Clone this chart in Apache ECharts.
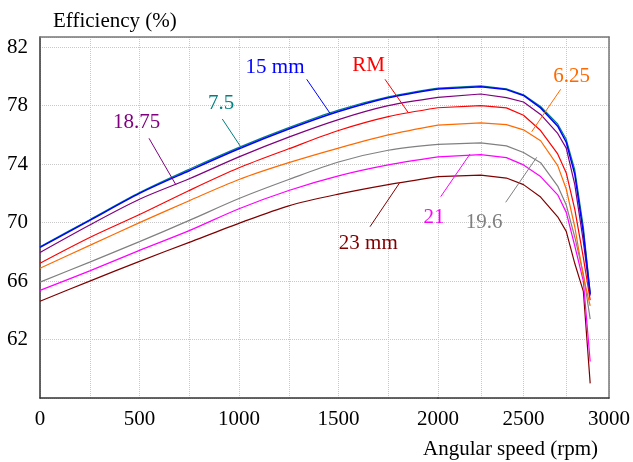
<!DOCTYPE html>
<html>
<head>
<meta charset="utf-8">
<script src="https://cdn.jsdelivr.net/npm/echarts@6/dist/echarts.min.js"></script>
<style>
html, body { margin: 0; padding: 0; background: #fff; }
#main { width: 633px; height: 462px; }
</style>
</head>
<body>
<div id="main"></div>
<script>
// 转速 (rpm)
var rpm = [0, 250, 500, 750, 1000, 1250, 1500, 1750, 2000, 2250, 2400, 2500, 2600, 2700, 2750, 2800, 2850, 2890];

// 效率 (%)
var eff75 = [68.35, 70.2, 72.05, 73.65, 75.15, 76.5, 77.7, 78.6, 79.2, 79.35, 79.15, 78.75, 77.95, 76.75, 75.7, 73.6, 69.7, 65.2];
var eff15 = [68.3, 70.15, 72.0, 73.55, 75.05, 76.4, 77.6, 78.55, 79.15, 79.3, 79.1, 78.7, 77.85, 76.6, 75.5, 73.3, 69.3, 65.1];
var eff1875 = [67.96, 69.84, 71.6, 73.0, 74.5, 75.85, 77.05, 78.0, 78.57, 78.8, 78.55, 78.25, 77.4, 76.1, 75.1, 72.6, 68.7, 65.0];
var effRM = [67.22, 68.98, 70.55, 72.2, 73.75, 75.05, 76.3, 77.25, 77.86, 78.0, 77.85, 77.35, 76.3, 74.7, 73.4, 70.9, 67.6, 64.7];
var eff625 = [66.88, 68.44, 70.0, 71.5, 72.95, 74.1, 75.1, 76.0, 76.67, 76.83, 76.7, 76.35, 75.6, 73.9, 72.3, 69.7, 66.3, 64.3];
var eff196 = [65.93, 67.3, 68.7, 70.15, 71.65, 72.95, 74.15, 74.95, 75.35, 75.45, 75.25, 74.8, 74.1, 72.5, 71.2, 69.0, 66.5, 63.4];
var eff21 = [65.36, 66.7, 68.1, 69.45, 70.95, 72.2, 73.2, 73.95, 74.5, 74.65, 74.45, 73.95, 73.15, 71.9, 70.7, 68.4, 66.0, 60.5];
var eff23 = [64.62, 66.0, 67.35, 68.65, 69.95, 71.15, 71.95, 72.6, 73.15, 73.25, 73.05, 72.6, 71.75, 70.4, 69.4, 67.2, 65.3, 59.0];

var yTicks = [62, 66, 70, 74, 78, 82];
var xTicks = [0, 500, 1000, 1500, 2000, 2500, 3000];

var curves = [
    { name: '23 mm', data: eff23, color: '#800000' },
    { name: '21', data: eff21, color: '#ff00ff' },
    { name: '19.6', data: eff196, color: '#808080' },
    { name: '6.25', data: eff625, color: '#ff6a00' },
    { name: 'RM', data: effRM, color: '#ff0000' },
    { name: '18.75', data: eff1875, color: '#800080' },
    { name: '7.5', data: eff75, color: '#008080' },
    { name: '15 mm', data: eff15, color: '#0000ff' }
];

var font = 'Liberation Serif';
var grid = { left: 40, top: 37, bottom: 64 };
var split = 2000; // 原图2000rpm以后横轴被压缩, 分成两个grid

// 取某段转速范围内的点
function part(vals, lo, hi) {
    var out = [];
    for (var i = 0; i < rpm.length; i++) {
        if (rpm[i] >= lo && rpm[i] <= hi) out.push([rpm[i], vals[i]]);
    }
    return out;
}

function xLabel(hideVal) {
    return function (v) {
        if (v === hideVal) return '';
        return xTicks.indexOf(v) >= 0 ? v : '';
    };
}

function yLabel(v) {
    return yTicks.indexOf(v) >= 0 ? v : '';
}

var splitStyle = { show: true, lineStyle: { color: '#c8c8c8', type: 'dotted', width: 1 } };
var darkLine = { show: true, lineStyle: { color: '#333', width: 1.5 } };
var greyLine = { show: true, lineStyle: { color: '#777', width: 1.5 } };

var series = [];
curves.forEach(function (c) {
    // [起, 止, 轴序号, 平滑]
    [[0, split, 0, 0.3], [split, 3000, 1, false]].forEach(function (p) {
        series.push({
            name: c.name,
            type: 'line',
            xAxisIndex: p[2],
            yAxisIndex: p[2],
            data: part(c.data, p[0], p[1]),
            showSymbol: false,
            smooth: p[3],
            lineStyle: { color: c.color, width: c.name == '15 mm' ? 1.5 : 1.2 },
            itemStyle: { color: c.color },
            z: 3
        });
    });
});

// 曲线标注: [文字, 颜色, 文字x, 文字y, 线x1, 线y1, 线x2, 线y2]
var notes = [
    ['15 mm', '#0000ff', 275, 67, 306.7, 79.3, 330, 113.3],
    ['RM', '#ff0000', 368.5, 65, 385, 79.3, 408.3, 112.7],
    ['7.5', '#008080', 221, 103, 222.3, 119, 241.7, 148.3],
    ['18.75', '#800080', 136.5, 122.5, 149, 138.3, 176, 185],
    ['6.25', '#ff6a00', 571.5, 76, 560.7, 89.3, 531.7, 131.7],
    ['19.6', '#808080', 484, 222, 505.7, 202.3, 536.7, 157.3],
    ['21', '#ff00ff', 434, 217.5, 440.7, 196.7, 470, 154],
    ['23 mm', '#800000', 368.3, 243, 370, 226.7, 399.3, 183.3]
];
var graphics = [];
notes.forEach(function (n) {
    graphics.push({
        type: 'text', x: n[2], y: n[3], z: 10,
        style: { text: n[0], fill: n[1], font: '21px "' + font + '"', textAlign: 'center', textVerticalAlign: 'middle' }
    });
    graphics.push({
        type: 'line', z: 10,
        shape: { x1: n[4], y1: n[5], x2: n[6], y2: n[7] },
        style: { stroke: n[1], lineWidth: 1 }
    });
});

var myChart = echarts.init(document.getElementById('main'));
var option = {
    animation: false,
    backgroundColor: '#fff',
    title: [{
        text: 'Efficiency (%)', left: 48, top: 6,
        textStyle: { fontFamily: font, fontSize: 21, fontWeight: 'normal', color: '#000' }
    }, {
        text: 'Angular speed (rpm)', right: 30, top: 434,
        textStyle: { fontFamily: font, fontSize: 21, fontWeight: 'normal', color: '#000' }
    }],
    grid: [
        { left: grid.left, top: grid.top, bottom: grid.bottom, width: 398 },
        { left: 438, top: grid.top, bottom: grid.bottom, width: 174 }
    ],
    xAxis: [{
        type: 'value', gridIndex: 0, min: 0, max: split, interval: 250,
        axisLine: darkLine, axisTick: { show: false }, splitLine: splitStyle,
        axisLabel: { formatter: xLabel(null), fontFamily: font, fontSize: 21, color: '#000', margin: 11 }
    }, {
        type: 'value', gridIndex: 1, min: split, max: 3000, interval: 250,
        axisLine: darkLine, axisTick: { show: false }, splitLine: splitStyle,
        axisLabel: { formatter: xLabel(split), fontFamily: font, fontSize: 21, color: '#000', margin: 11 }
    }, {
        type: 'value', gridIndex: 0, position: 'top', min: 0, max: split,
        axisLine: greyLine, axisTick: { show: false }, splitLine: { show: false }, axisLabel: { show: false }
    }, {
        type: 'value', gridIndex: 1, position: 'top', min: split, max: 3000,
        axisLine: greyLine, axisTick: { show: false }, splitLine: { show: false }, axisLabel: { show: false }
    }],
    yAxis: [{
        type: 'value', gridIndex: 0, min: 58, max: 82.7, interval: 4,
        axisLine: darkLine, axisTick: { show: false }, splitLine: splitStyle,
        axisLabel: { formatter: yLabel, fontFamily: font, fontSize: 21, color: '#000', margin: 12 }
    }, {
        type: 'value', gridIndex: 1, position: 'right', min: 58, max: 82.7, interval: 4,
        axisLine: greyLine, axisTick: { show: false }, splitLine: splitStyle,
        axisLabel: { show: false }
    }],
    series: series,
    graphic: graphics
};
myChart.setOption(option);
</script>
</body>
</html>
